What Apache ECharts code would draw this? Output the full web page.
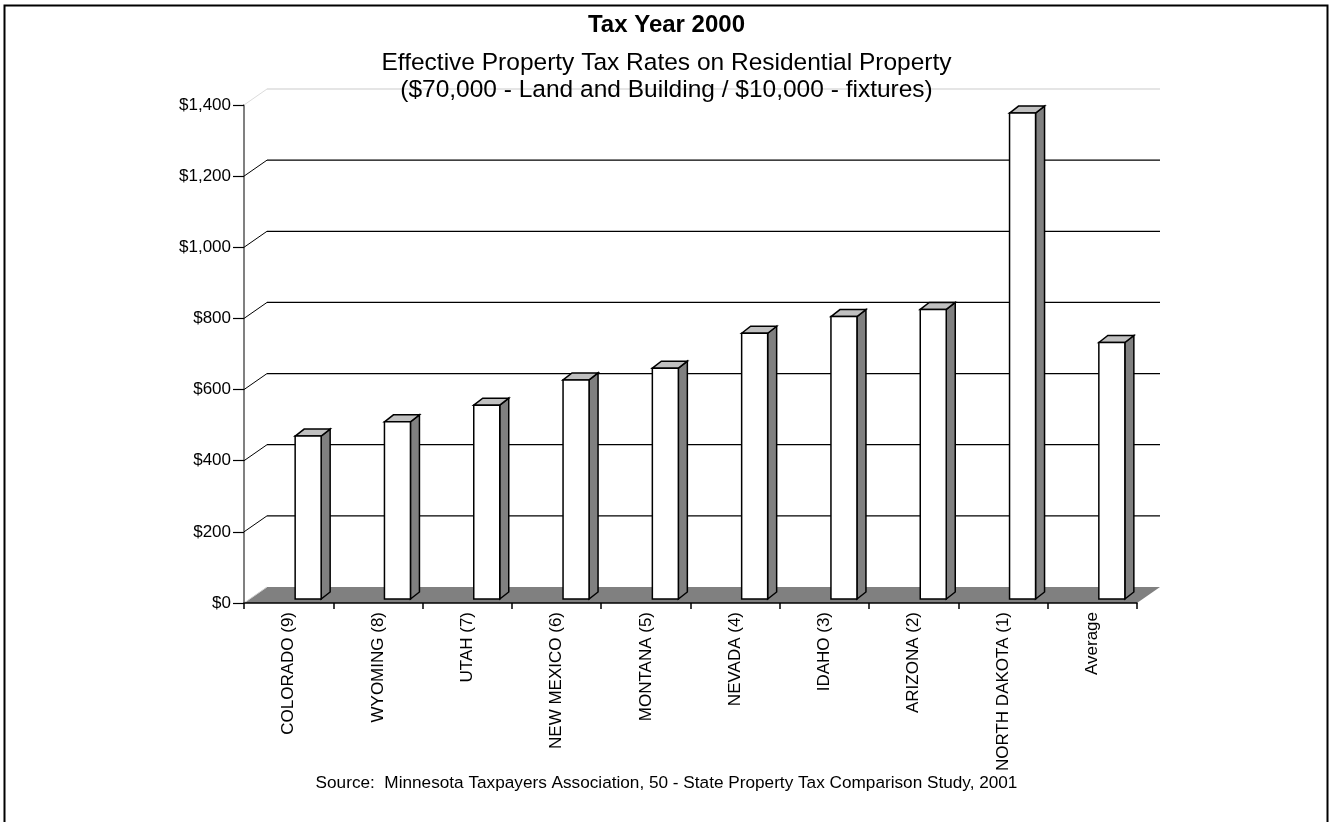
<!DOCTYPE html>
<html>
<head>
<meta charset="utf-8">
<script src="https://cdn.jsdelivr.net/npm/echarts@6/dist/echarts.min.js"></script>
<style>
  html, body { margin: 0; padding: 0; background: #fff; }
  #chart { width: 1333px; height: 822px; }
</style>
</head>
<body>
<div id="chart"></div>
<script>
// Effective property tax on a $70,000 home + $10,000 fixtures, tax year 2000
const categories = ['COLORADO (9)', 'WYOMING (8)', 'UTAH (7)', 'NEW MEXICO (6)', 'MONTANA (5)',
  'NEVADA (4)', 'IDAHO (3)', 'ARIZONA (2)', 'NORTH DAKOTA (1)', 'Average'];
const taxAmounts = [458, 498, 545, 616, 649, 747, 794, 814, 1366, 721];
const yTicks = [0, 200, 400, 600, 800, 1000, 1200, 1400];

const FONT = '"Liberation Sans", Arial, sans-serif';
// depth of the back wall / floor and of each column
const WALL_DX = 23, WALL_DY = -16;
const BAR_DX = 9, BAR_DY = -7;
const BAR_LIFT = 4, BAR_OFFSET = 6.5, BAR_W = 26;

const chart = echarts.init(document.getElementById('chart'), null, { renderer: 'canvas' });

function money(v) {
  return '$' + v.toLocaleString('en-US');
}

function heading(text, top, size, weight) {
  return {
    text, left: 'center', top, padding: 0,
    textStyle: { fontFamily: FONT, fontSize: size, fontWeight: weight, color: '#000' }
  };
}

const option = {
  backgroundColor: '#ffffff',
  animation: false,
  title: [
    heading('Tax Year 2000', 13, 24, 'bold'),
    heading('Effective Property Tax Rates on Residential Property', 51, 24.5, 'normal'),
    heading('($70,000 - Land and Building / $10,000 - fixtures)', 78, 24.5, 'normal'),
    heading('Source:  Minnesota Taxpayers Association, 50 - State Property Tax Comparison Study, 2001', 775, 17.2, 'normal')
  ],
  graphic: [
    {
      type: 'rect', silent: true, z: -10,
      shape: { x: 4.5, y: 5.5, width: 1323, height: 830 },
      style: { fill: 'none', stroke: '#000', lineWidth: 2 }
    }
  ],
  grid: { left: 244, right: 196, top: 105, bottom: 219, containLabel: false, outerBoundsMode: 'none' },
  xAxis: {
    type: 'category',
    data: categories,
    boundaryGap: true,
    axisLine: { show: true, lineStyle: { color: '#000', width: 1.5 } },
    axisTick: { show: true, length: 6, alignWithLabel: false, lineStyle: { color: '#000', width: 1.5 } },
    axisLabel: { rotate: 90, margin: 9, interval: 0, fontFamily: FONT, fontSize: 17, color: '#000' },
    splitLine: { show: false },
    z: 5
  },
  yAxis: {
    type: 'value',
    min: 0, max: 1400, interval: 200,
    axisLine: { show: true, lineStyle: { color: '#808080', width: 2 } },
    axisTick: { show: true, length: 11, inside: false, lineStyle: { color: '#000', width: 1.2 } },
    axisLabel: { margin: 13, fontFamily: FONT, fontSize: 17, color: '#000', formatter: money },
    splitLine: { show: false }
  },
  series: [
    {
      // back wall gridlines, side wall diagonals and the floor
      type: 'custom',
      z: 1,
      silent: true,
      data: yTicks.map(v => [0, v]),
      encode: { x: 0, y: 1 },
      renderItem(params, api) {
        const v = api.value(1);
        const cs = params.coordSys;
        const y = api.coord([0, v])[1];
        const x0 = cs.x, x1 = cs.x + cs.width;
        const children = [];
        if (v === 0) {
          children.push({
            type: 'polygon',
            shape: { points: [[x0, y], [x1, y], [x1 + WALL_DX, y + WALL_DY], [x0 + WALL_DX, y + WALL_DY]] },
            style: { fill: '#808080', stroke: null }
          });
          children.push({
            type: 'line',
            shape: { x1: x0, y1: y, x2: x0 + WALL_DX, y2: y + WALL_DY },
            style: { stroke: '#d0d0d0', lineWidth: 1 }
          });
        } else {
          const isTop = v === yTicks[yTicks.length - 1];
          const col = isTop ? '#dcdcdc' : '#000';
          children.push({
            type: 'line',
            shape: { x1: x0, y1: y, x2: x0 + WALL_DX, y2: y + WALL_DY },
            style: { stroke: col, lineWidth: 1 }
          });
          children.push({
            type: 'line',
            shape: { x1: x0 + WALL_DX, y1: y + WALL_DY, x2: x1 + WALL_DX, y2: y + WALL_DY },
            style: { stroke: col, lineWidth: 1.3 }
          });
        }
        return { type: 'group', children };
      }
    },
    {
      // 3-D columns: front, top and side faces
      type: 'custom',
      z: 3,
      data: taxAmounts.map((v, i) => [i, v]),
      encode: { x: 0, y: 1 },
      renderItem(params, api) {
        const i = api.value(0);
        const top = api.coord([i, api.value(1)]);
        const base = api.coord([i, 0]);
        const xl = top[0] + BAR_OFFSET;
        const xr = xl + BAR_W;
        const yt = top[1] - BAR_LIFT;
        const yb = base[1] - BAR_LIFT;
        const edge = { stroke: '#000', lineWidth: 1.5, lineJoin: 'miter' };
        return {
          type: 'group',
          children: [
            {
              type: 'polygon',
              shape: { points: [[xr, yt], [xr + BAR_DX, yt + BAR_DY], [xr + BAR_DX, yb + BAR_DY], [xr, yb]] },
              style: Object.assign({ fill: '#808080' }, edge)
            },
            {
              type: 'polygon',
              shape: { points: [[xl, yt], [xl + BAR_DX, yt + BAR_DY], [xr + BAR_DX, yt + BAR_DY], [xr, yt]] },
              style: Object.assign({ fill: '#c0c0c0' }, edge)
            },
            {
              type: 'rect',
              shape: { x: xl, y: yt, width: BAR_W, height: yb - yt },
              style: Object.assign({ fill: '#ffffff' }, edge)
            }
          ]
        };
      }
    }
  ]
};

chart.setOption(option);
</script>
</body>
</html>
